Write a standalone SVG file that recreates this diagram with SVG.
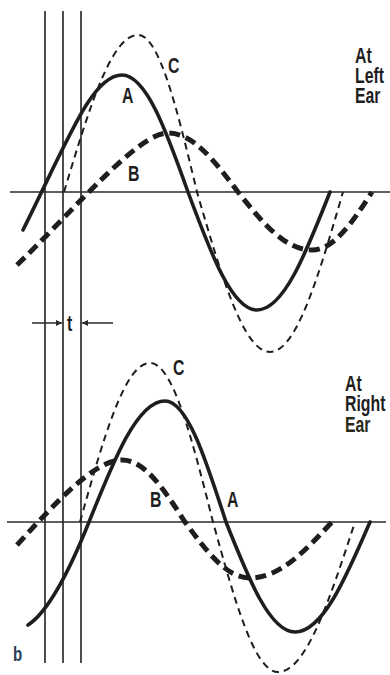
<svg xmlns="http://www.w3.org/2000/svg" width="390" height="675" viewBox="0 0 390 675">
<style>
.bg{fill:#ffffff}
.axis{stroke:#2a2a2a;stroke-width:1.6;fill:none}
.vline{stroke:#3a3a3a;stroke-width:1.8;fill:none}
.curveA{stroke:#1e1e1e;stroke-width:3.6;fill:none;stroke-linecap:round}
.curveB{stroke:#1e1e1e;stroke-width:5;fill:none;stroke-dasharray:11 6}
.curveC{stroke:#1e1e1e;stroke-width:2;fill:none;stroke-dasharray:7 5}
.lbl{font-family:"Liberation Sans",Arial,sans-serif;font-weight:bold;font-size:22px;fill:#1e1e1e}
.arr{stroke:#2a2a2a;stroke-width:1.5;fill:none}
</style>
<defs>
<marker id="ah" viewBox="0 0 10 10" refX="10" refY="5" markerWidth="7" markerHeight="6" orient="auto" markerUnits="userSpaceOnUse">
<path d="M0,0 L10,5 L0,10 z" fill="#2a2a2a"/>
</marker>
</defs>
<rect class="bg" x="0" y="0" width="390" height="675"/>

<g id="verticals">
<line class="vline" x1="45" y1="11" x2="45" y2="663"/>
<line class="vline" x1="63" y1="11" x2="63" y2="663"/>
<line class="vline" x1="81" y1="11" x2="81" y2="663"/>
</g>

<g id="axes">
<line class="axis" x1="10" y1="192" x2="390" y2="192"/>
<line class="axis" x1="7" y1="522" x2="386" y2="522"/>
</g>

<g id="connectors">
<g id="top-curves">
<path id="topA" class="curveA" d="M23,230 C68,140 92,75 122,75 C146,75 166,130 188,192 C211,254 232,310 257,310 C283.5,310 305.6,254 330,192"/>
<path id="topB" class="curveB" d="M17,265 C77,207 138,133 168,133 C193.4,133 214.6,161 238,192 C262.7,223 285,250 312,250 C333.8,250 352,223 372,192"/>
<path id="topC" class="curveC" d="M64,192 C88.7,110 111,35 138,35 C159.4,35 177.3,110 197,192 C221.4,276 243.5,352 270,352 C296.5,352 318.6,276 343,192"/>
</g>
<g id="bottom-curves">
<path id="botA" class="curveA" d="M28,625 C48,612 69,572 89,522 C114.4,458.5 137.4,401 165,401 C187.1,401 205.6,458.5 226,522 C249,580 270,632 295,632 C322.2,632 345,580 370,522"/>
<path id="botB" class="curveB" d="M17,545 C57,501 95,460 122,460 C145,460 164,489.5 185,522 C206.7,551.4 226.4,578 250,578 C279.8,578 304.6,551.4 332,522"/>
<path id="botC" class="curveC" d="M80,522 C103.4,438.5 124.6,363 150,363 C172.9,363 192,438.5 213,522 C234.7,600.8 254.4,672 278,672 C306,672 329.3,600.8 355,522"/>
</g>
<g id="t-arrows">
<line class="arr" x1="32" y1="323" x2="62" y2="323" marker-end="url(#ah)"/>
<line class="arr" x1="113" y1="323" x2="82" y2="323" marker-end="url(#ah)"/>
</g>
</g>

<g id="label-left-ear">
<text class="lbl" transform="translate(355,63) scale(0.72,1)">At</text>
<text class="lbl" transform="translate(355,83) scale(0.72,1)">Left</text>
<text class="lbl" transform="translate(355,103) scale(0.72,1)">Ear</text>
</g>
<g id="label-right-ear">
<text class="lbl" transform="translate(345,391) scale(0.72,1)">At</text>
<text class="lbl" transform="translate(345,411) scale(0.72,1)">Right</text>
<text class="lbl" transform="translate(345,432) scale(0.72,1)" style="fill:#2a2a18">Ear</text>
</g>
<g id="top-labels">
<text class="lbl" transform="translate(122,103) scale(0.72,1)">A</text>
<text class="lbl" transform="translate(128,181) scale(0.72,1)">B</text>
<text class="lbl" transform="translate(168,73) scale(0.72,1)">C</text>
</g>
<g id="bottom-labels">
<text class="lbl" transform="translate(173,375) scale(0.72,1)">C</text>
<text class="lbl" transform="translate(150,507) scale(0.72,1)">B</text>
<text class="lbl" transform="translate(227,507) scale(0.72,1)">A</text>
</g>
<g id="label-t">
<text class="lbl" transform="translate(67,331) scale(0.72,1)">t</text>
</g>
<g id="label-b">
<text class="lbl" transform="translate(13,661) scale(0.72,1)" style="font-size:21px;fill:#2d3e57">b</text>
</g>
</svg>
